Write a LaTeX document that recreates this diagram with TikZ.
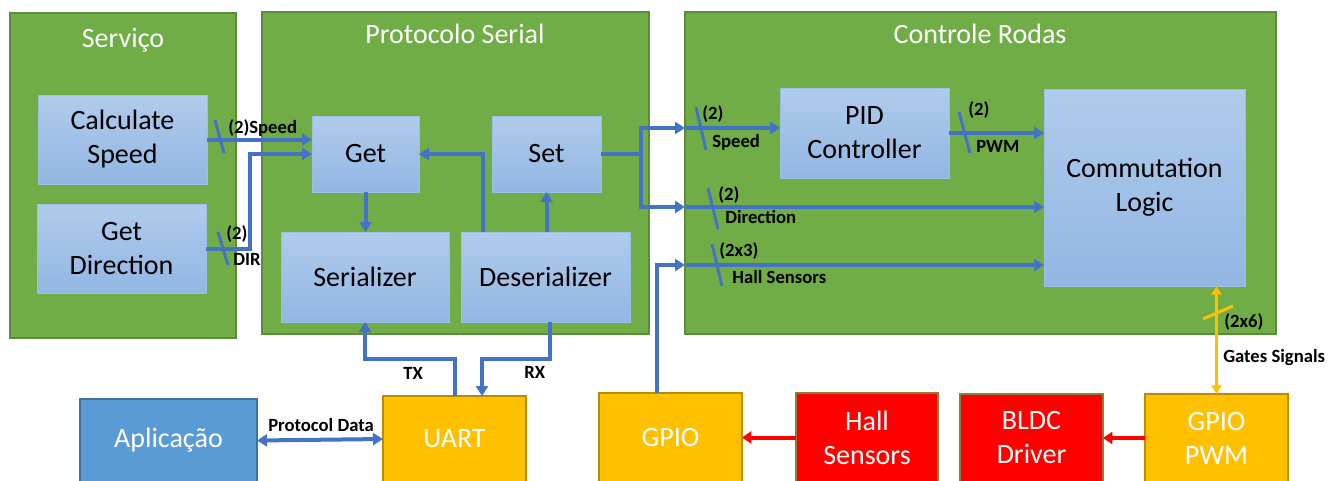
\documentclass[tikz,border=0pt]{standalone}
\usepackage{fontspec}
\setmainfont{Carlito}
\usetikzlibrary{arrows.meta,fit,calc}
\definecolor{grn}{HTML}{70AD47}
\definecolor{grnd}{HTML}{5A8C3A}
\definecolor{bbt}{HTML}{B0CBEB}
\definecolor{bbb}{HTML}{92B6E3}
\definecolor{bbd}{HTML}{9DBEE8}
\definecolor{arb}{HTML}{4472C4}
\definecolor{appb}{HTML}{5B9BD5}
\definecolor{appd}{HTML}{41719C}
\definecolor{yel}{HTML}{FFC000}
\definecolor{yeld}{HTML}{BC8C00}
\definecolor{rd}{HTML}{FF0000}
\definecolor{rdd}{HTML}{8B7D3A}
\newcommand\bigf{\fontsize{21}{25.5}\selectfont}
\newcommand\smf{\bfseries\fontsize{14}{16}\selectfont}
\begin{document}
\begin{tikzpicture}[x=0.75pt,y=-0.75pt,
  grp/.style={fit={#1}, inner sep=0pt, outer sep=0pt, draw=grnd, fill=grn, line width=0.8pt},
  bbox/.style={fit={#1}, inner sep=0pt, outer sep=0pt, draw=bbd, line width=0.6pt, top color=bbt, bottom color=bbb},
  ybox/.style={fit={#1}, inner sep=0pt, outer sep=0pt, draw=yeld, line width=0.8pt, fill=yel},
  rbox/.style={fit={#1}, inner sep=0pt, outer sep=0pt, draw=rdd, line width=0.8pt, fill=rd},
  abox/.style={fit={#1}, inner sep=0pt, outer sep=0pt, draw=appd, line width=0.8pt, fill=appb},
  btxt/.style={text=black, font=\bigf, align=center, inner sep=0pt},
  wtxt/.style={text=white, font=\bigf, align=center, inner sep=0pt},
  ttl/.style={text=white, font=\bigf, anchor=base},
  lbl/.style={text=black, font=\smf, anchor=base west, inner sep=0pt},
  arr/.style={draw=arb, line width=3pt, -{Triangle[length=7.5pt,width=9pt]}},
  slash/.style={draw=arb, line width=2.2pt},
  yarr/.style={draw=yel, line width=2.2pt, {Triangle[length=6.5pt,width=7.5pt]}-{Triangle[length=6.5pt,width=7.5pt]}},
  rarr/.style={draw=rd, line width=3pt, -{Triangle[length=7pt,width=9pt]}}
]
\useasboundingbox (0,0) rectangle (1340,480);
% groups
\node[grp={(10,13) (236,338)}] (serv) {};
\node[grp={(262,12) (649,334)}] (prot) {};
\node[grp={(685,12) (1276,334)}] (ctrl) {};
\node[ttl] (tserv) at (123,47) {Serviço};
\node[ttl] (tprot) at (455,43) {Protocolo Serial};
\node[ttl] (tctrl) at (980,43) {Controle Rodas};
% inner boxes
\node[bbox={(38,95) (207,184)}] (calc) {};
\node[bbox={(37,204) (206,293)}] (gdir) {};
\node[bbox={(312,116) (419,192)}] (get) {};
\node[bbox={(492,116) (601,192)}] (set) {};
\node[bbox={(281,232) (449,322)}] (ser) {};
\node[bbox={(461,232) (630,322)}] (deser) {};
\node[bbox={(780,88) (949,178)}] (pid) {};
\node[bbox={(1044,89) (1245,286)}] (comm) {};
\node[btxt] (calct) at (calc.center) {Calculate\\Speed};
\node[btxt] (gdirt) at (gdir.center) {Get\\Direction};
\node[btxt] (gett) at (get.center) {Get};
\node[btxt] (sett) at (set.center) {Set};
\node[btxt] (sert) at (ser.center) {Serializer};
\node[btxt] (desert) at (deser.center) {Deserializer};
\node[btxt] (pidt) at (pid.center) {PID\\Controller};
\node[btxt] (commt) at (comm.center) {Commutation\\Logic};
% bottom boxes
\node[abox={(80,399) (257,482)}] (app) {};
\node[ybox={(383,396) (526,482)}] (uart) {};
\node[ybox={(599,393) (742,482)}] (gpio) {};
\node[rbox={(796,393) (938,482)}] (hall) {};
\node[rbox={(960,394) (1103,482)}] (bldc) {};
\node[ybox={(1145,394) (1288,482)}] (gpwm) {};
\node[wtxt] (appt) at (app.center) {Aplicação};
\node[wtxt] (uartt) at (uart.center) {UART};
\node[wtxt] (gpiot) at (gpio.center) {GPIO};
\node[wtxt] (hallt) at (hall.center) {Hall\\Sensors};
\node[wtxt] (bldct) at (bldc.center) {BLDC\\Driver};
\node[wtxt] (gpwmt) at (gpwm.center) {GPIO\\PWM};
% Servico -> Get
\draw[arr] (calc.east) -- (calc.east -| get.west);
\draw[arr] (gdir.east) -- ++(44,0) |- (get.west);
\draw[slash] (215,120) -- (224,153);
\draw[slash] (218,232) -- (228,265);
\node[lbl] (l1) at (228,133) {(2)Speed};
\node[lbl] (l2) at (226,239) {(2)};
\node[lbl] (l3) at (233,265) {DIR};
% inside protocol
\draw[arr] (get.south) -- (get.south |- ser.north);
\draw[arr] ($(deser.north)+(-62.5,0)$) |- (get.east);
\draw[arr] (set.south |- deser.north) -- (set.south);
% set -> controle rodas
\coordinate (j1) at (641,154);
\coordinate (inS) at (685,128);
\coordinate (inD) at (685,207);
\coordinate (inH) at (685,265);
\draw[arr] (set.east) -- (j1) |- (inS);
\draw[arr] (j1) |- (inD);
\draw[arr] ($(gpio.north)+(-13.5,0)$) |- (inH);
\draw[arr] (inS) -- (inS -| pid.west);
\draw[arr] (inD) -- (inD -| comm.west);
\draw[arr] (inH) -- (inH -| comm.west);
\draw[arr] (pid.east) -- (pid.east -| comm.west);
\draw[slash] (696,107) -- (706,150);
\draw[slash] (959,112) -- (970,153);
\draw[slash] (708,188) -- (718,229);
\draw[slash] (712,244) -- (722,286);
\node[lbl] (l4) at (702,119) {(2)};
\node[lbl] (l5) at (712,147) {Speed};
\node[lbl] (l6) at (968,115) {(2)};
\node[lbl] (l7) at (976,152) {PWM};
\node[lbl] (l8) at (718,200) {(2)};
\node[lbl] (l9) at (725,223) {Direction};
\node[lbl] (l10) at (719,256) {(2x3)};
\node[lbl] (l11) at (732,283) {Hall Sensors};
% gates
\draw[yarr] (gpwm.north |- comm.south) -- (gpwm.north);
\draw[draw=yel, line width=2.2pt] (1203,319) -- (1233,306);
\node[lbl] (l12) at (1224,327) {(2x6)};
\node[lbl] (l13) at (1223,362) {Gates Signals};
% red arrows
\draw[rarr] (hall.west) -- (gpio.east);
\draw[rarr] (gpwm.west) -- (bldc.east);
% uart
\draw[arr] (uart.north) -- ++(0,-37) -| (ser.south);
\draw[arr] ($(deser.south)+(4.5,0)$) |- ($(uart.north)+(27.5,-37)$) -- ($(uart.north)+(27.5,0)$);
\node[lbl] (l14) at (403,379) {TX};
\node[lbl] (l15) at (524,378) {RX};
\draw[draw=arb, line width=3pt, {Triangle[length=7.5pt,width=9pt]}-{Triangle[length=7.5pt,width=9pt]}] (app.east) -- (uart.west);
\node[lbl] (l16) at (268,431) {Protocol Data};
\end{tikzpicture}
\end{document}
